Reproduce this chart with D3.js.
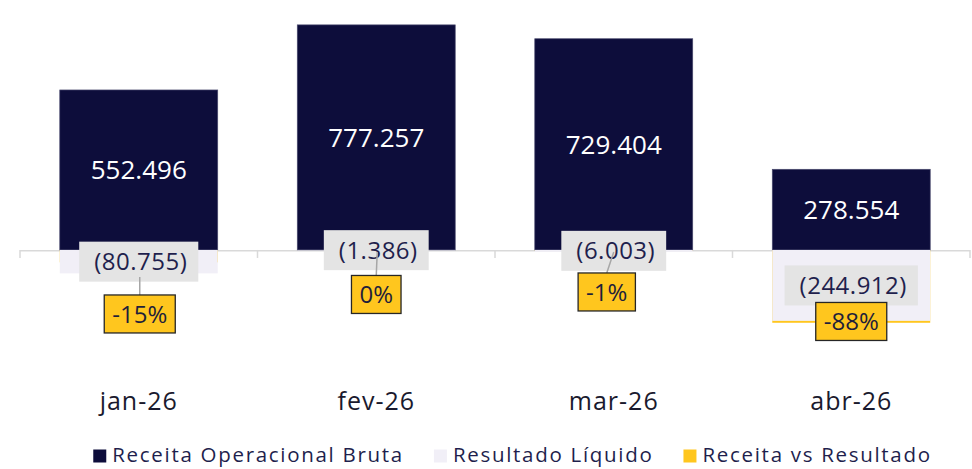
<!DOCTYPE html>
<html>
<head>
<meta charset="utf-8">
<script src="https://cdn.jsdelivr.net/npm/d3@7"></script>
<style>
  body { margin: 0; background: #fff; }
  svg text { font-family: "Century Gothic", "Open Sans", sans-serif; }
</style>
</head>
<body>
<div id="chart"></div>
<script>
// data
var categories = ["jan-26", "fev-26", "mar-26", "abr-26"];
var receitaBruta = [552496, 777257, 729404, 278554];
var resultadoLiquido = [-80755, -1386, -6003, -244912];
var receitaVsResultado = [-0.15, 0.00, -0.01, -0.88];
var seriesNames = ["Receita Operacional Bruta", "Resultado Líquido", "Receita vs Resultado"];

// where the % labels were dragged to (dx from category centre, dy from the zero line)
var pctLabelLayout = [
  {dx: 1, dy: 64, leadDx: 1, leadDy: 27},
  {dx: 0, dy: 44.5, leadDx: 1, leadDy: 2},
  {dx: -7, dy: 42, leadDx: 0, leadDy: 2},
  {dx: 0, dy: 71.5, leadDx: null, leadDy: null}
];

var colors = {bruta: "#0d0d3b", liquido: "#f1eff7", pct: "#ffc61e"};

var width = 972, height = 469;

var svg = d3.select("#chart").append("svg")
  .attr("width", width)
  .attr("height", height);

var fmtLocale = d3.formatLocale({decimal: ",", thousands: ".", grouping: [3], currency: ["R$", ""]});
var fmt = fmtLocale.format(",.0f");
function fmtNum(v) { return v < 0 ? "(" + fmt(-v) + ")" : fmt(v); }
function fmtPct(v) { return String(Math.round(v * 100)) + "%"; }

var x = d3.scaleBand()
  .domain(categories)
  .range([20, 970])
  .paddingInner(0.335)
  .paddingOuter(0.1675);

var y = d3.scaleLinear().domain([-400000, 800000]).range([365.8, 18.3]);
// secondary axis for the % series
var y2 = d3.scaleLinear().domain([-1.4, 2.8]).range([365.8, 18.3]);

var y0 = y(0);
var gap = (x.step() - x.bandwidth()) / 2;

// zero line + boundary ticks
svg.append("line")
  .attr("x1", x.range()[0]).attr("x2", x.range()[1])
  .attr("y1", y0 + 0.8).attr("y2", y0 + 0.8)
  .attr("stroke", "#d9d9d9").attr("stroke-width", 1.5);

var bounds = categories.map(function (d) { return x(d) - gap; }).concat([x.range()[1]]);
svg.selectAll(".btick")
  .data(bounds)
  .enter().append("line")
  .attr("class", "btick")
  .attr("x1", function (d) { return d; }).attr("x2", function (d) { return d; })
  .attr("y1", y0).attr("y2", y0 + 8)
  .attr("stroke", "#d9d9d9").attr("stroke-width", 1.5);

// category labels
var xAxis = svg.append("g")
  .attr("transform", "translate(0," + y0 + ")")
  .call(d3.axisBottom(x).tickSize(0).tickPadding(142));
xAxis.select(".domain").remove();
xAxis.selectAll("text")
  .style("font-family", "'Century Gothic', 'Open Sans', sans-serif")
  .style("font-size", "25px")
  .style("letter-spacing", "1px")
  .attr("fill", "#1a1a2e");

// % series bars (secondary axis, sit behind)
svg.selectAll(".pct-bar")
  .data(receitaVsResultado)
  .enter().append("rect")
  .attr("class", "pct-bar")
  .attr("fill", colors.pct)
  .attr("x", function (d, i) { return x(categories[i]); })
  .attr("width", x.bandwidth())
  .attr("y", function (d) { return Math.min(y2(d), y2(0)); })
  .attr("height", function (d) { return Math.abs(y2(d) - y2(0)); });

// receita bruta
svg.selectAll(".bruta")
  .data(receitaBruta)
  .enter().append("rect")
  .attr("class", "bruta")
  .attr("fill", colors.bruta)
  .attr("stroke", "#4a4a6e")
  .attr("stroke-width", 0.7)
  .attr("x", function (d, i) { return x(categories[i]); })
  .attr("width", x.bandwidth())
  .attr("y", function (d) { return y(d); })
  .attr("height", function (d) { return y0 - y(d); });

// resultado liquido
svg.selectAll(".liquido")
  .data(resultadoLiquido)
  .enter().append("rect")
  .attr("class", "liquido")
  .attr("fill", colors.liquido)
  .attr("x", function (d, i) { return x(categories[i]); })
  .attr("width", x.bandwidth())
  .attr("y", y0)
  .attr("height", function (d) { return y(d) - y0; });

// labels inside dark bars
svg.selectAll(".bruta-lbl")
  .data(receitaBruta)
  .enter().append("text")
  .attr("class", "bruta-lbl")
  .attr("x", function (d, i) { return x(categories[i]) + x.bandwidth() / 2; })
  .attr("y", function (d) { return (y(d) + y0) / 2; })
  .attr("dy", "0.36em")
  .attr("text-anchor", "middle")
  .style("font-size", "26px")
  .attr("fill", "#fff")
  .text(fmtNum);

// grey labels for resultado
resultadoLiquido.forEach(function (d, i) {
  var cx = x(categories[i]) + x.bandwidth() / 2;
  var cy = (y(d) + y0) / 2;
  var g = svg.append("g").attr("class", "liq-lbl");
  var box = g.append("rect").attr("fill", "#e4e4e4");
  var t = g.append("text")
    .attr("x", cx + 2)
    .attr("y", cy)
    .attr("dy", "0.36em")
    .attr("text-anchor", "middle")
    .style("font-size", "24px")
    .style("letter-spacing", "0.5px")
    .attr("fill", "#1f1f4d")
    .text(fmtNum(d));
  var w = t.node().getComputedTextLength() + 26;
  box.attr("x", cx - w / 2).attr("y", cy - 20).attr("width", w).attr("height", 40);
});

// % labels with leader lines
receitaVsResultado.forEach(function (d, i) {
  var c = x(categories[i]) + x.bandwidth() / 2;
  var L = pctLabelLayout[i];
  var cx = c + L.dx, cy = y0 + L.dy;
  var g = svg.append("g").attr("class", "pct-lbl");
  if (L.leadDx !== null) {
    g.append("line")
      .attr("x1", cx).attr("y1", cy - 19)
      .attr("x2", c + L.leadDx).attr("y2", y0 + L.leadDy)
      .attr("stroke", "#a6a6a6").attr("stroke-width", 1.5);
  }
  var box = g.append("rect")
    .attr("fill", colors.pct)
    .attr("stroke", "#262626")
    .attr("stroke-width", 1.3);
  var t = g.append("text")
    .attr("x", cx)
    .attr("y", cy)
    .attr("dy", "0.36em")
    .attr("text-anchor", "middle")
    .style("font-size", "24px")
    .attr("fill", "#1f1f3a")
    .text(fmtPct(d));
  var w = t.node().getComputedTextLength() + 16;
  box.attr("x", cx - w / 2).attr("y", cy - 19).attr("width", w).attr("height", 38);
});

// legend
var legendColors = [colors.bruta, colors.liquido, colors.pct];
var legend = svg.append("g").attr("class", "legend");
var lx = 0;
seriesNames.forEach(function (name, i) {
  legend.append("rect")
    .attr("x", lx).attr("y", -5.5)
    .attr("width", 13).attr("height", 13)
    .attr("fill", legendColors[i]);
  var t = legend.append("text")
    .attr("x", lx + 19)
    .attr("y", 0)
    .attr("dy", "0.36em")
    .style("font-size", "20.5px")
    .style("letter-spacing", "1.7px")
    .attr("fill", "#1f1f4d")
    .text(name);
  lx += 19 + t.node().getComputedTextLength() + 30;
});
var legendW = lx - 30;
legend.attr("transform", "translate(" + (512.5 - legendW / 2) + ",455)");
</script>
</body>
</html>
